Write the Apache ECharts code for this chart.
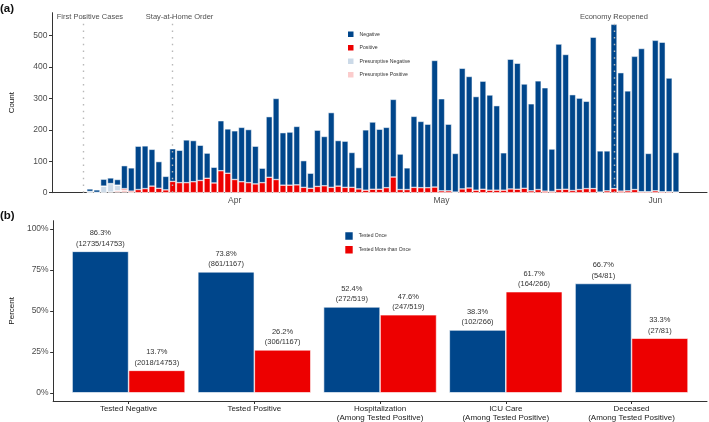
<!DOCTYPE html>
<html>
<head>
<meta charset="UTF-8">
<title>Daily tests and repeat testing</title>
<style type="text/css">
    body,html{ margin: 0; padding: 0; width: 709px; height: 422px; overflow: hidden; background: #fff;}
    #chart{ width: 709px; height: 422px;}
</style>
</head>
<body>
<div id="chart"></div>
<script src="https://cdn.jsdelivr.net/npm/echarts@6/dist/echarts.min.js"></script>
<script type="text/javascript">
// (a) daily test results, one value per day starting at firstDay
var firstDay = '2020-03-11';
var negative = [8, 8, 22, 18, 18, 73, 74, 138, 136, 117,
    85, 43, 104, 103, 136, 131, 112, 80, 50, 159,
    141, 155, 173, 169, 120, 46, 193, 258, 167, 169,
    186, 85, 48, 179, 157, 238, 145, 147, 111, 68,
    192, 214, 191, 192, 247, 113, 69, 226, 211, 202,
    403, 293, 212, 123, 384, 355, 298, 344, 303, 269,
    119, 413, 401, 332, 277, 346, 329, 135, 463, 429,
    305, 291, 278, 482, 131, 127, 523, 377, 318, 424,
    456, 122, 479, 476, 362, 126];
var positive = [0, 0, 0, 0, 0, 4, 4, 10, 13, 21,
    14, 9, 36, 32, 32, 35, 39, 46, 31, 70,
    62, 42, 35, 32, 28, 32, 49, 42, 24, 24,
    25, 17, 14, 20, 22, 17, 21, 17, 17, 12,
    8, 11, 11, 16, 50, 10, 10, 17, 16, 16,
    18, 6, 6, 2, 12, 15, 8, 11, 8, 8,
    8, 12, 11, 14, 6, 10, 5, 4, 10, 11,
    7, 10, 13, 13, 2, 6, 13, 5, 6, 10,
    3, 3, 6, 3, 3, 2];
var presNegative = [4, 1, 21, 27, 18, 0, 0, 0, 0, 0,
    0, 0, 0, 0, 0, 0, 0, 0, 0, 0, 0, 0, 0, 0, 0, 0, 0, 0, 0, 0,
    0, 0, 0, 0, 0, 0, 0, 0, 0, 0, 0, 0, 0, 0, 0, 0, 0, 0, 0, 0,
    0, 0, 0, 0, 0, 0, 0, 0, 0, 0, 0, 0, 0, 0, 0, 0, 0, 0, 0, 0,
    0, 0, 0, 0, 0, 0, 0, 0, 0, 0, 0, 0, 0, 0, 0, 0];
var presPositive = [0, 0, 0, 2, 6, 9, 1, 0, 0, 0,
    0, 0, 0, 0, 0, 0, 0, 0, 0, 0, 0, 0, 0, 0, 0, 0, 0, 0, 0, 0,
    0, 0, 0, 0, 0, 0, 0, 0, 0, 0, 0, 0, 0, 0, 0, 0, 0, 0, 0, 0,
    0, 0, 0, 0, 0, 0, 0, 0, 0, 0, 0, 0, 0, 0, 0, 0, 0, 0, 0, 0,
    0, 0, 0, 0, 0, 0, 0, 0, 0, 0, 0, 0, 0, 0, 0, 0];
// the date axis runs over these days
var axisStart = '2020-03-06', axisEnd = '2020-06-08';
var monthTicks = ['2020-04-01', '2020-05-01', '2020-06-01'];
var monthLabels = ['Apr', 'May', 'Jun'];
var countTicks = [0, 100, 200, 300, 400, 500];
// event lines and their captions
var eventLineDates = ['2020-03-10', '2020-03-23', '2020-05-26'];
var eventTextDates = ['2020-03-11', '2020-03-24', '2020-05-26'];
var eventNames = ['First Positive Cases', 'Stay-at-Home Order', 'Economy Reopened'];

// (b) tested once vs more than once
var groups = ['Tested Negative', 'Tested Positive', 'Hospitalization\n(Among Tested Positive)',
    'ICU Care\n(Among Tested Positive)', 'Deceased\n(Among Tested Positive)'];
var oncePct = [86.3, 73.8, 52.4, 38.3, 66.7];
var morePct = [13.7, 26.2, 47.6, 61.7, 33.3];
var onceN = [12735, 861, 272, 102, 54];
var moreN = [2018, 306, 247, 164, 27];
var totalN = [14753, 1167, 519, 266, 81];
var pctTicks = [0, 25, 50, 75, 100];

var BLUE = '#00468B', RED = '#ED0000', LBLUE = '#CCDAE8', LRED = '#FBCCCC';
var FONT = '"Liberation Sans", Arial, sans-serif';
var DAY = 864e5;

function toTime(s) {
    var p = s.split('-');
    return Date.UTC(+p[0], +p[1] - 1, +p[2]);
}
function toStr(t) { return new Date(t).toISOString().slice(0, 10); }

var axisDays = [];
for (var t = toTime(axisStart); t <= toTime(axisEnd); t += DAY) axisDays.push(toStr(t));
var days = negative.map(function (v, i) { return toStr(toTime(firstDay) + i * DAY); });

function isMonthTick(i, v) { return monthTicks.indexOf(v) >= 0; }

function dailyBar(name, arr, color) {
    return {
        name: name, type: 'bar', stack: 'daily', xAxisIndex: 0, yAxisIndex: 0,
        barWidth: '90%',
        data: arr.map(function (v, i) { return [days[i], v]; }),
        itemStyle: { color: color, borderColor: '#fff', borderWidth: 0.5 },
        emphasis: { disabled: true }
    };
}

var axisLineStyle = { color: '#333', width: 1 };
var tickLabel = { color: '#4d4d4d', fontSize: 8.5, fontFamily: FONT };

var series = [
    dailyBar('Presumptive Positive', presPositive, LRED),
    dailyBar('Presumptive Negative', presNegative, LBLUE),
    dailyBar('Positive', positive, RED),
    dailyBar('Negative', negative, BLUE)
];
series[3].markLine = {
    symbol: 'none', silent: true, animation: false,
    label: { show: false },
    lineStyle: { color: '#b8b8b8', type: [1.5, 5.2], width: 1.4 },
    data: eventLineDates.map(function (d) { return { xAxis: d }; })
};
series.push({
    type: 'scatter', xAxisIndex: 0, yAxisIndex: 0, symbolSize: 0, silent: true, z: 10,
    data: eventTextDates.map(function (d, i) {
        return { value: [d, 558], name: eventNames[i] };
    }),
    label: { show: true, position: 'inside', formatter: '{b}', fontSize: 7.5, color: '#1a1a1a', fontFamily: FONT }
});

function groupBar(name, pct, n, color) {
    return {
        name: name, type: 'bar', xAxisIndex: 1, yAxisIndex: 1,
        barWidth: 56.5, barGap: '0%',
        data: pct.map(function (v, i) { return [i, v]; }),
        itemStyle: { color: color, borderColor: '#fff', borderWidth: 0.6 },
        emphasis: { disabled: true },
        label: {
            show: true, position: 'top', distance: 2.5,
            fontSize: 7.5, lineHeight: 10.4, color: '#333', fontFamily: FONT,
            formatter: function (p) {
                var i = p.dataIndex;
                return pct[i].toFixed(1) + '%\n(' + n[i] + '/' + totalN[i] + ')';
            }
        }
    };
}
series.push(groupBar('Tested Once', oncePct, onceN, BLUE));
series.push(groupBar('Tested More than Once', morePct, moreN, RED));

var option = {
    animation: false,
    backgroundColor: '#fff',
    textStyle: { fontFamily: FONT },
    title: [
        { text: '(a)', left: 0, top: 2.5, padding: 0, textStyle: { fontSize: 11.5, fontWeight: 'bold', color: '#111', fontFamily: FONT } },
        { text: '(b)', left: 0, top: 210, padding: 0, textStyle: { fontSize: 11.5, fontWeight: 'bold', color: '#111', fontFamily: FONT } }
    ],
    legend: [{
        data: ['Negative', 'Positive', 'Presumptive Negative', 'Presumptive Positive'],
        orient: 'vertical', left: 346, top: 29.5, padding: 0,
        itemWidth: 7.5, itemHeight: 7.5, itemGap: 4, icon: 'rect', selectedMode: false,
        textStyle: { fontSize: 5.2, color: '#333', fontFamily: FONT }
    }, {
        data: ['Tested Once', 'Tested More than Once'],
        orient: 'vertical', left: 343.3, top: 230.3, padding: 0,
        itemWidth: 9.4, itemHeight: 9.4, itemGap: 2.3, icon: 'rect', selectedMode: false,
        textStyle: { fontSize: 5, color: '#333', fontFamily: FONT }
    }],
    grid: [
        { left: 49, right: 2, top: 12.7, bottom: 229.3 },
        { left: 49, right: 2, top: 220.7, bottom: 21 }
    ],
    xAxis: [{
        type: 'category', gridIndex: 0, data: axisDays,
        axisLine: { onZero: false, lineStyle: axisLineStyle },
        axisTick: { interval: isMonthTick, alignWithLabel: true, length: 3, lineStyle: axisLineStyle },
        axisLabel: {
            interval: isMonthTick, margin: 3.5,
            formatter: function (v) { return monthLabels[monthTicks.indexOf(v)]; },
            color: '#4d4d4d', fontSize: 8.5, fontFamily: FONT
        },
        splitLine: { show: false }
    }, {
        type: 'value', gridIndex: 1, min: -0.6, max: 4.6,
        axisLine: { onZero: false, lineStyle: axisLineStyle },
        axisTick: { customValues: [0, 1, 2, 3, 4], length: 3, lineStyle: axisLineStyle },
        axisLabel: {
            customValues: [0, 1, 2, 3, 4], margin: 3.5,
            formatter: function (v) { return groups[v]; },
            color: '#222', fontSize: 8, lineHeight: 8.7, fontFamily: FONT
        },
        splitLine: { show: false }
    }],
    yAxis: [{
        type: 'value', gridIndex: 0, min: 0, max: 573,
        name: 'Count', nameLocation: 'middle', nameGap: 36,
        nameTextStyle: { color: '#111', fontSize: 8, fontFamily: FONT },
        axisLine: { show: true, onZero: false, lineStyle: axisLineStyle },
        axisTick: { show: true, customValues: countTicks, length: 3, lineStyle: axisLineStyle },
        axisLabel: Object.assign({ customValues: countTicks, margin: 4.5 }, tickLabel),
        splitLine: { show: false }
    }, {
        type: 'value', gridIndex: 1, min: -5, max: 105,
        name: 'Percent', nameLocation: 'middle', nameGap: 30,
        nameTextStyle: { color: '#111', fontSize: 8, fontFamily: FONT },
        axisLine: { show: true, onZero: false, lineStyle: axisLineStyle },
        axisTick: { show: true, customValues: pctTicks, length: 3, lineStyle: axisLineStyle },
        axisLabel: Object.assign({ customValues: pctTicks, margin: 4.5, formatter: '{value}%' }, tickLabel),
        splitLine: { show: false }
    }],
    series: series
};

var myChart = echarts.init(document.getElementById('chart'));
myChart.setOption(option);
</script>
</body>
</html>
